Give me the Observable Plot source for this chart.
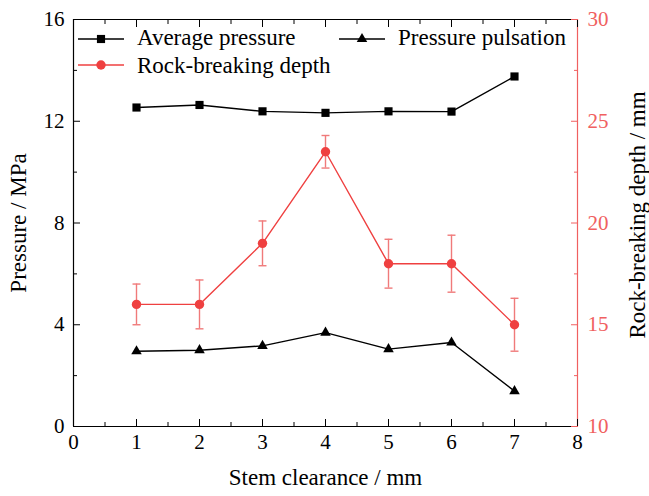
<!DOCTYPE html>
<html>
<head>
<meta charset="utf-8">
<script src="https://cdn.jsdelivr.net/npm/d3@7"></script>
<script src="https://cdn.jsdelivr.net/npm/@observablehq/plot@0.6"></script>
<style>
  html, body { margin: 0; padding: 0; background: #fff; }
  #wrap { position: relative; width: 649px; height: 496px; font-family: "Liberation Serif", "Times New Roman", serif; }
  #wrap svg text { font-family: "Liberation Serif", "Times New Roman", serif !important; }
  .leg { position: absolute; font-family: "Liberation Serif", serif; font-size: 23px; color: #000; white-space: nowrap; line-height: 1; }
  .legsym { position: absolute; }
</style>
</head>
<body>
<div id="wrap"></div>
<script>
// ---- data ----
const clearance = [1, 2, 3, 4, 5, 6, 7];
const avgPressure = [12.54, 12.64, 12.39, 12.33, 12.39, 12.38, 13.76];
const pulsation = [2.96, 3.00, 3.17, 3.69, 3.04, 3.30, 1.39];
const depth = [16.0, 16.0, 19.0, 23.5, 18.0, 18.0, 15.0];
const depthLow = [15.0, 14.8, 17.9, 22.7, 16.8, 16.6, 13.7];
const depthHigh = [17.0, 17.2, 20.1, 24.3, 19.2, 19.4, 16.3];
const xTicks = [0, 1, 2, 3, 4, 5, 6, 7, 8];
const xMinor = [0.5, 1.5, 2.5, 3.5, 4.5, 5.5, 6.5, 7.5];
const yTicks = [0, 4, 8, 12, 16];
const yMinor = [2, 6, 10, 14];
const depthTicks = [10, 15, 20, 25, 30];
const depthMinor = [12.5, 17.5, 22.5, 27.5];
const labels = { x: "Stem clearance / mm", y: "Pressure / MPa", y2: "Rock-breaking depth / mm" };
const seriesNames = ["Average pressure", "Pressure pulsation", "Rock-breaking depth"];

// ---- style ----
const FONT = "Liberation Serif";
const RED = "#ef4040";
const RED_AX = "#f06060";
const RED_ERR = "#f07a7a";

// map depth (10..30) onto left scale (0..16)
const yMin = 0, yMax = 16, dMin = 10, dMax = 30;
const toY = d => yMin + (d - dMin) * (yMax - yMin) / (dMax - dMin);
const fromY = y => dMin + (y - yMin) * (dMax - dMin) / (yMax - yMin);

const avgData = clearance.map((x, i) => ({x, y: avgPressure[i]}));
const pulData = clearance.map((x, i) => ({x, y: pulsation[i]}));
const depData = clearance.map((x, i) => ({x, y: toY(depth[i]), lo: toY(depthLow[i]), hi: toY(depthHigh[i])}));

const capSymbol = {
  draw(ctx, size) {
    const w = Math.sqrt(size);
    ctx.moveTo(-w / 2, 0);
    ctx.lineTo(w / 2, 0);
  }
};

const chart = Plot.plot({
  width: 649,
  height: 496,
  marginLeft: 73,
  marginRight: 72,
  marginTop: 19,
  marginBottom: 70,
  x: { domain: [0, 8] },
  y: { domain: [yMin, yMax] },
  style: { fontFamily: FONT, fontSize: "21px", background: "#fff", color: "#000" },
  marks: [
    // frame
    Plot.ruleY([yMin], { stroke: "#000", strokeWidth: 1.2 }),
    Plot.ruleY([yMax], { stroke: "#000", strokeWidth: 1.2 }),
    Plot.ruleX([0], { stroke: "#000", strokeWidth: 1.2 }),
    Plot.ruleX([8], { stroke: RED_AX, strokeWidth: 1.2 }),
    // bottom axis ticks & labels
    Plot.axisX(xTicks, { anchor: "bottom", tickSize: -7, text: null, label: null }),
    Plot.axisX(xMinor, { anchor: "bottom", tickSize: -4, text: null, label: null }),
    Plot.axisX(xTicks, { anchor: "bottom", tickSize: 0, tickPadding: 8, fontSize: 21, fontFamily: FONT, label: null }),
    // top ticks
    Plot.axisX(xTicks, { anchor: "top", tickSize: -7, text: null, label: null }),
    Plot.axisX(xMinor, { anchor: "top", tickSize: -4, text: null, label: null }),
    // left axis
    Plot.axisY(yTicks, { anchor: "left", tickSize: -7, text: null, label: null }),
    Plot.axisY(yMinor, { anchor: "left", tickSize: -4, text: null, label: null }),
    Plot.axisY(yTicks, { anchor: "left", tickSize: 0, tickPadding: 9, fontSize: 21, fontFamily: FONT, label: null }),
    // right axis (depth)
    Plot.axisY(depthTicks.map(toY), { anchor: "right", tickSize: -7, text: null, label: null, stroke: RED_AX }),
    Plot.axisY(depthMinor.map(toY), { anchor: "right", tickSize: -4, text: null, label: null, stroke: RED_AX }),
    Plot.axisY(depthTicks.map(toY), { anchor: "right", tickSize: 0, tickPadding: 10, fontSize: 21, fontFamily: FONT, label: null, fill: RED_AX, tickFormat: v => String(Math.round(fromY(v))) }),
    // axis titles
    Plot.text([labels.x], { frameAnchor: "bottom", dy: 58, fontSize: 23, fontFamily: FONT, textAnchor: "middle", text: d => d }),
    Plot.text([labels.y], { frameAnchor: "left", dx: -55, rotate: -90, fontSize: 23, fontFamily: FONT, textAnchor: "middle", text: d => d }),
    Plot.text([labels.y2], { frameAnchor: "right", dx: 60, dy: -8, rotate: -90, fontSize: 23, fontFamily: FONT, textAnchor: "middle", text: d => d }),
    // series: average pressure
    Plot.line(avgData, { x: "x", y: "y", stroke: "#000", strokeWidth: 1.4 }),
    Plot.dot(avgData, { x: "x", y: "y", symbol: "square", r: 4.6, fill: "#000" }),
    // pulsation
    Plot.line(pulData, { x: "x", y: "y", stroke: "#000", strokeWidth: 1.4 }),
    Plot.dot(pulData, { x: "x", y: "y", symbol: "triangle", r: 3.9, fill: "#000" }),
    // depth error bars
    Plot.ruleX(depData, { x: "x", y1: "lo", y2: "hi", stroke: RED_ERR, strokeWidth: 1.4 }),
    Plot.dot(depData, { x: "x", y: "lo", symbol: capSymbol, r: 4.5, stroke: RED_ERR, strokeWidth: 1.4, fill: "none" }),
    Plot.dot(depData, { x: "x", y: "hi", symbol: capSymbol, r: 4.5, stroke: RED_ERR, strokeWidth: 1.4, fill: "none" }),
    // depth line
    Plot.line(depData, { x: "x", y: "y", stroke: RED, strokeWidth: 1.4 }),
    Plot.dot(depData, { x: "x", y: "y", r: 4.7, fill: RED, stroke: "none" })
  ]
});

const wrap = document.getElementById("wrap");
wrap.appendChild(chart);

// ---- legend (HTML overlay) ----
function legendItem(left, lineY, baseline, name, color, shape) {
  const svgNS = "http://www.w3.org/2000/svg";
  const s = document.createElementNS(svgNS, "svg");
  s.setAttribute("width", 46);
  s.setAttribute("height", 14);
  s.setAttribute("class", "legsym");
  s.style.left = left + "px";
  s.style.top = (lineY - 7) + "px";
  const ln = document.createElementNS(svgNS, "line");
  ln.setAttribute("x1", 0); ln.setAttribute("x2", 46);
  ln.setAttribute("y1", 7); ln.setAttribute("y2", 7);
  ln.setAttribute("stroke", color); ln.setAttribute("stroke-width", 1.4);
  s.appendChild(ln);
  const p = document.createElementNS(svgNS, "path");
  const sym = shape === "square" ? d3.symbolSquare : shape === "triangle" ? d3.symbolTriangle : d3.symbolCircle;
  const size = shape === "square" ? 4.6 * 4.6 * Math.PI : shape === "triangle" ? 3.9 * 3.9 * Math.PI : 4.7 * 4.7 * Math.PI;
  p.setAttribute("d", d3.symbol(sym, size)());
  p.setAttribute("transform", "translate(23,7)");
  p.setAttribute("fill", color);
  s.appendChild(p);
  wrap.appendChild(s);
  const t = document.createElement("div");
  t.className = "leg";
  t.textContent = name;
  t.style.left = (left + 59) + "px";
  t.style.top = (baseline - 19.3) + "px";
  wrap.appendChild(t);
}
legendItem(78, 39, 45, seriesNames[0], "#000", "square");
legendItem(339, 39, 45, seriesNames[1], "#000", "triangle");
legendItem(78, 65, 73, seriesNames[2], RED, "circle");
</script>
</body>
</html>
